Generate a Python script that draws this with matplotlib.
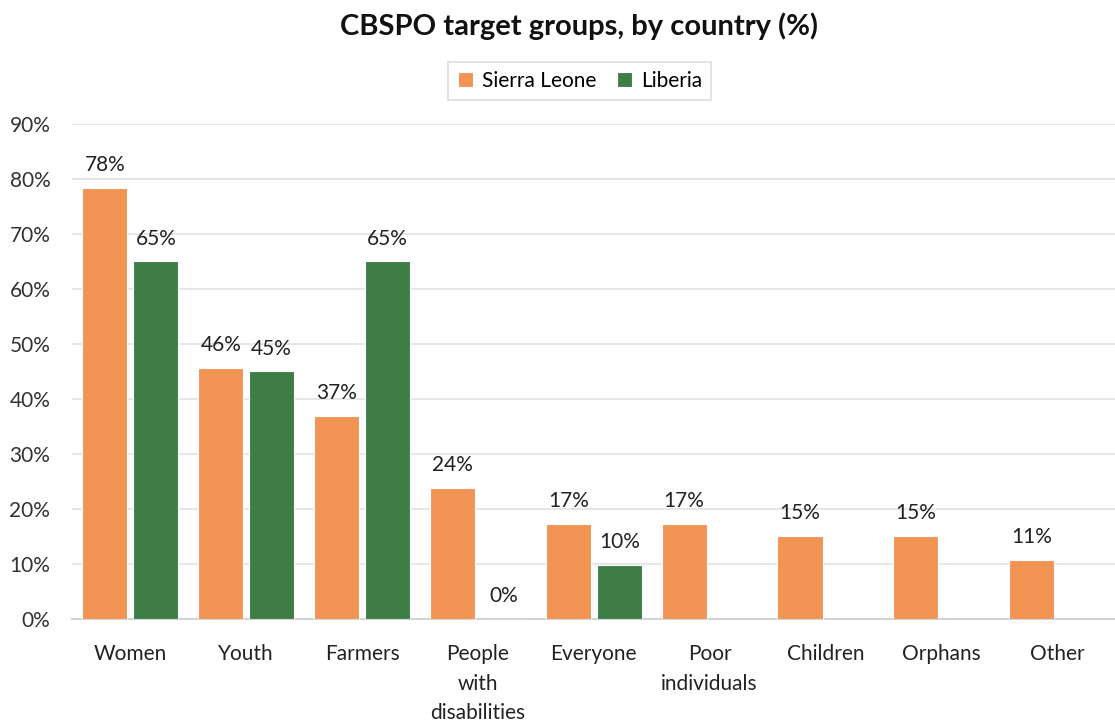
import numpy as np
import matplotlib.pyplot as plt
import matplotlib.ticker as ticker

plt.rcParams['font.family'] = ['Lato', 'DejaVu Sans']

# data
categories = ['Women', 'Youth', 'Farmers', 'People\nwith\ndisabilities', 'Everyone',
              'Poor\nindividuals', 'Children', 'Orphans', 'Other']
sierra_leone = [78.4, 45.6, 36.9, 23.8, 17.3, 17.3, 15.1, 15.1, 10.8]
liberia = [65.0, 45.0, 65.0, 0.0, 9.9, None, None, None, None]

orange = '#F29454'
green = '#3E7D45'

fig = plt.figure(figsize=(11.15, 7.24), dpi=100)
ax = fig.add_axes([0.065, 0.145, 0.935, 0.684])

x = np.arange(len(categories))
w = 0.39
gap = 0.05

ax.bar(x - (w + gap) / 2, sierra_leone, w, color=orange, edgecolor='white', linewidth=0.8,
       label='Sierra Leone', zorder=3)
lib_x = [xi for xi, v in zip(x, liberia) if v is not None]
lib_v = [v for v in liberia if v is not None]
ax.bar(np.array(lib_x) + (w + gap) / 2, lib_v, w, color=green, edgecolor='white', linewidth=0.8,
       label='Liberia', zorder=3)

for xi, v in zip(x, sierra_leone):
    ax.text(xi - (w + gap) / 2, v + 2.3, f'{v:.0f}%', ha='center', va='bottom',
            fontsize=15, color='#222222')
for xi, v in zip(lib_x, lib_v):
    ax.text(xi + (w + gap) / 2, v + 2.3, f'{v:.0f}%', ha='center', va='bottom',
            fontsize=15, color='#222222')

ax.set_xlim(-0.5, len(categories) - 0.5)
ax.set_ylim(0, 90)
ax.yaxis.set_major_locator(ticker.MultipleLocator(10))
ax.yaxis.set_major_formatter(ticker.FuncFormatter(lambda v, p: f'{v:.0f}%'))
ax.grid(axis='y', color='#E4E4E4', linewidth=1.3, zorder=0)
ax.set_xticks(x)
ax.set_xticklabels(categories, fontsize=15, color='#222222', linespacing=1.6, va='top')
ax.tick_params(axis='y', labelsize=15, labelcolor='#333333', length=0, pad=16)
ax.tick_params(axis='x', length=0, pad=18)
for s in ['top', 'right', 'left']:
    ax.spines[s].set_visible(False)
ax.spines['bottom'].set_color('#D0D0D0')
ax.spines['bottom'].set_linewidth(1.3)

fig.suptitle('CBSPO target groups, by country (%)', fontsize=21, fontweight='bold',
             x=0.519, y=0.983, color='#111111')
leg = fig.legend(loc='center', bbox_to_anchor=(0.52, 0.888), ncol=2, fontsize=15,
                 frameon=True, fancybox=False, edgecolor='#D9D9D9', handlelength=0.75,
                 handleheight=0.75, handletextpad=0.4, columnspacing=1.0,
                 borderpad=0.45)
leg.get_frame().set_linewidth(1.3)

fig.savefig('out.png', dpi=100)
